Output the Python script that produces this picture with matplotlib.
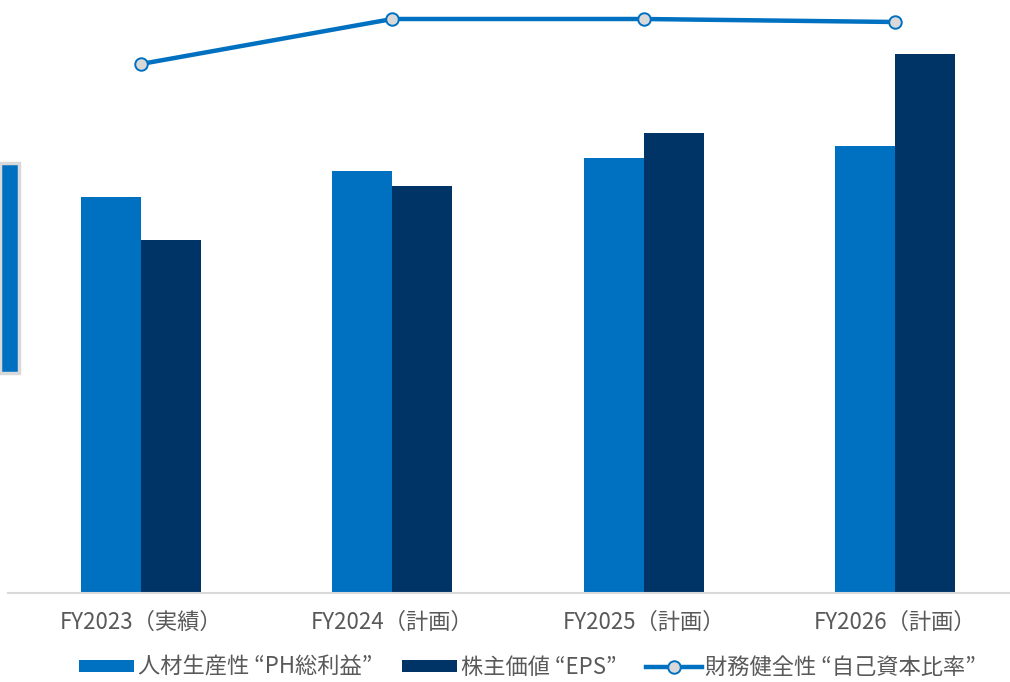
import numpy as np
import matplotlib.pyplot as plt
from matplotlib.patches import Rectangle

plt.rcParams['font.family'] = ['Noto Sans CJK JP', 'DejaVu Sans']

years = ['FY2023（実績）', 'FY2024（計画）', 'FY2025（計画）', 'FY2026（計画）']
ph_profit = [396, 422, 435, 447]      # 人材生産性
eps = [353, 407, 460, 539]            # 株主価値
equity_ratio = [529, 574, 574, 571]   # 財務健全性

series_names = ['人材生産性 “PH総利益”', '株主価値 “EPS”', '財務健全性 “自己資本比率”']

blue = '#0070C0'
navy = '#003366'

fig = plt.figure(figsize=(10.1, 6.82), dpi=100)
ax = fig.add_axes([8 / 1010, 89 / 682, 1002 / 1010, 593 / 682])

x = np.arange(len(years))
w = 0.239
b1 = ax.bar(x - w / 2, ph_profit, w, color=blue, label=series_names[0])
b2 = ax.bar(x + w / 2, eps, w, color=navy, label=series_names[1])
l1, = ax.plot(x, equity_ratio, color=blue, lw=3.2, marker='o', ms=9,
              mfc='#D9D9D9', mec=blue, mew=1.4, label=series_names[2],
              clip_on=False, zorder=5)

ax.set_xlim(-0.529, 3.458)
ax.set_ylim(0, 593)
for s in ['top', 'right', 'left']:
    ax.spines[s].set_visible(False)
ax.spines['bottom'].set_color('#D9D9D9')
ax.spines['bottom'].set_linewidth(1.5)
ax.set_yticks([])
ax.set_xticks(x)
ax.set_xticklabels(years, fontsize=16, color='#595959')
ax.tick_params(axis='x', length=0, pad=13)

# partial panel on the left edge
fig.patches.append(Rectangle((0, 1 - 373 / 682), 19 / 1010, 210 / 682,
                             transform=fig.transFigure, facecolor=blue,
                             edgecolor='#D9D9D9', lw=2.5, zorder=0))

fig.legend(handles=[b1, b2, l1], loc='center',
           bbox_to_anchor=(0.522, 1 - 667 / 682), ncol=3,
           frameon=False, fontsize=16, handlelength=2.5, handleheight=0.45,
           handletextpad=0.15, columnspacing=1.35, labelcolor='#595959')

fig.savefig('out.png', dpi=100)
